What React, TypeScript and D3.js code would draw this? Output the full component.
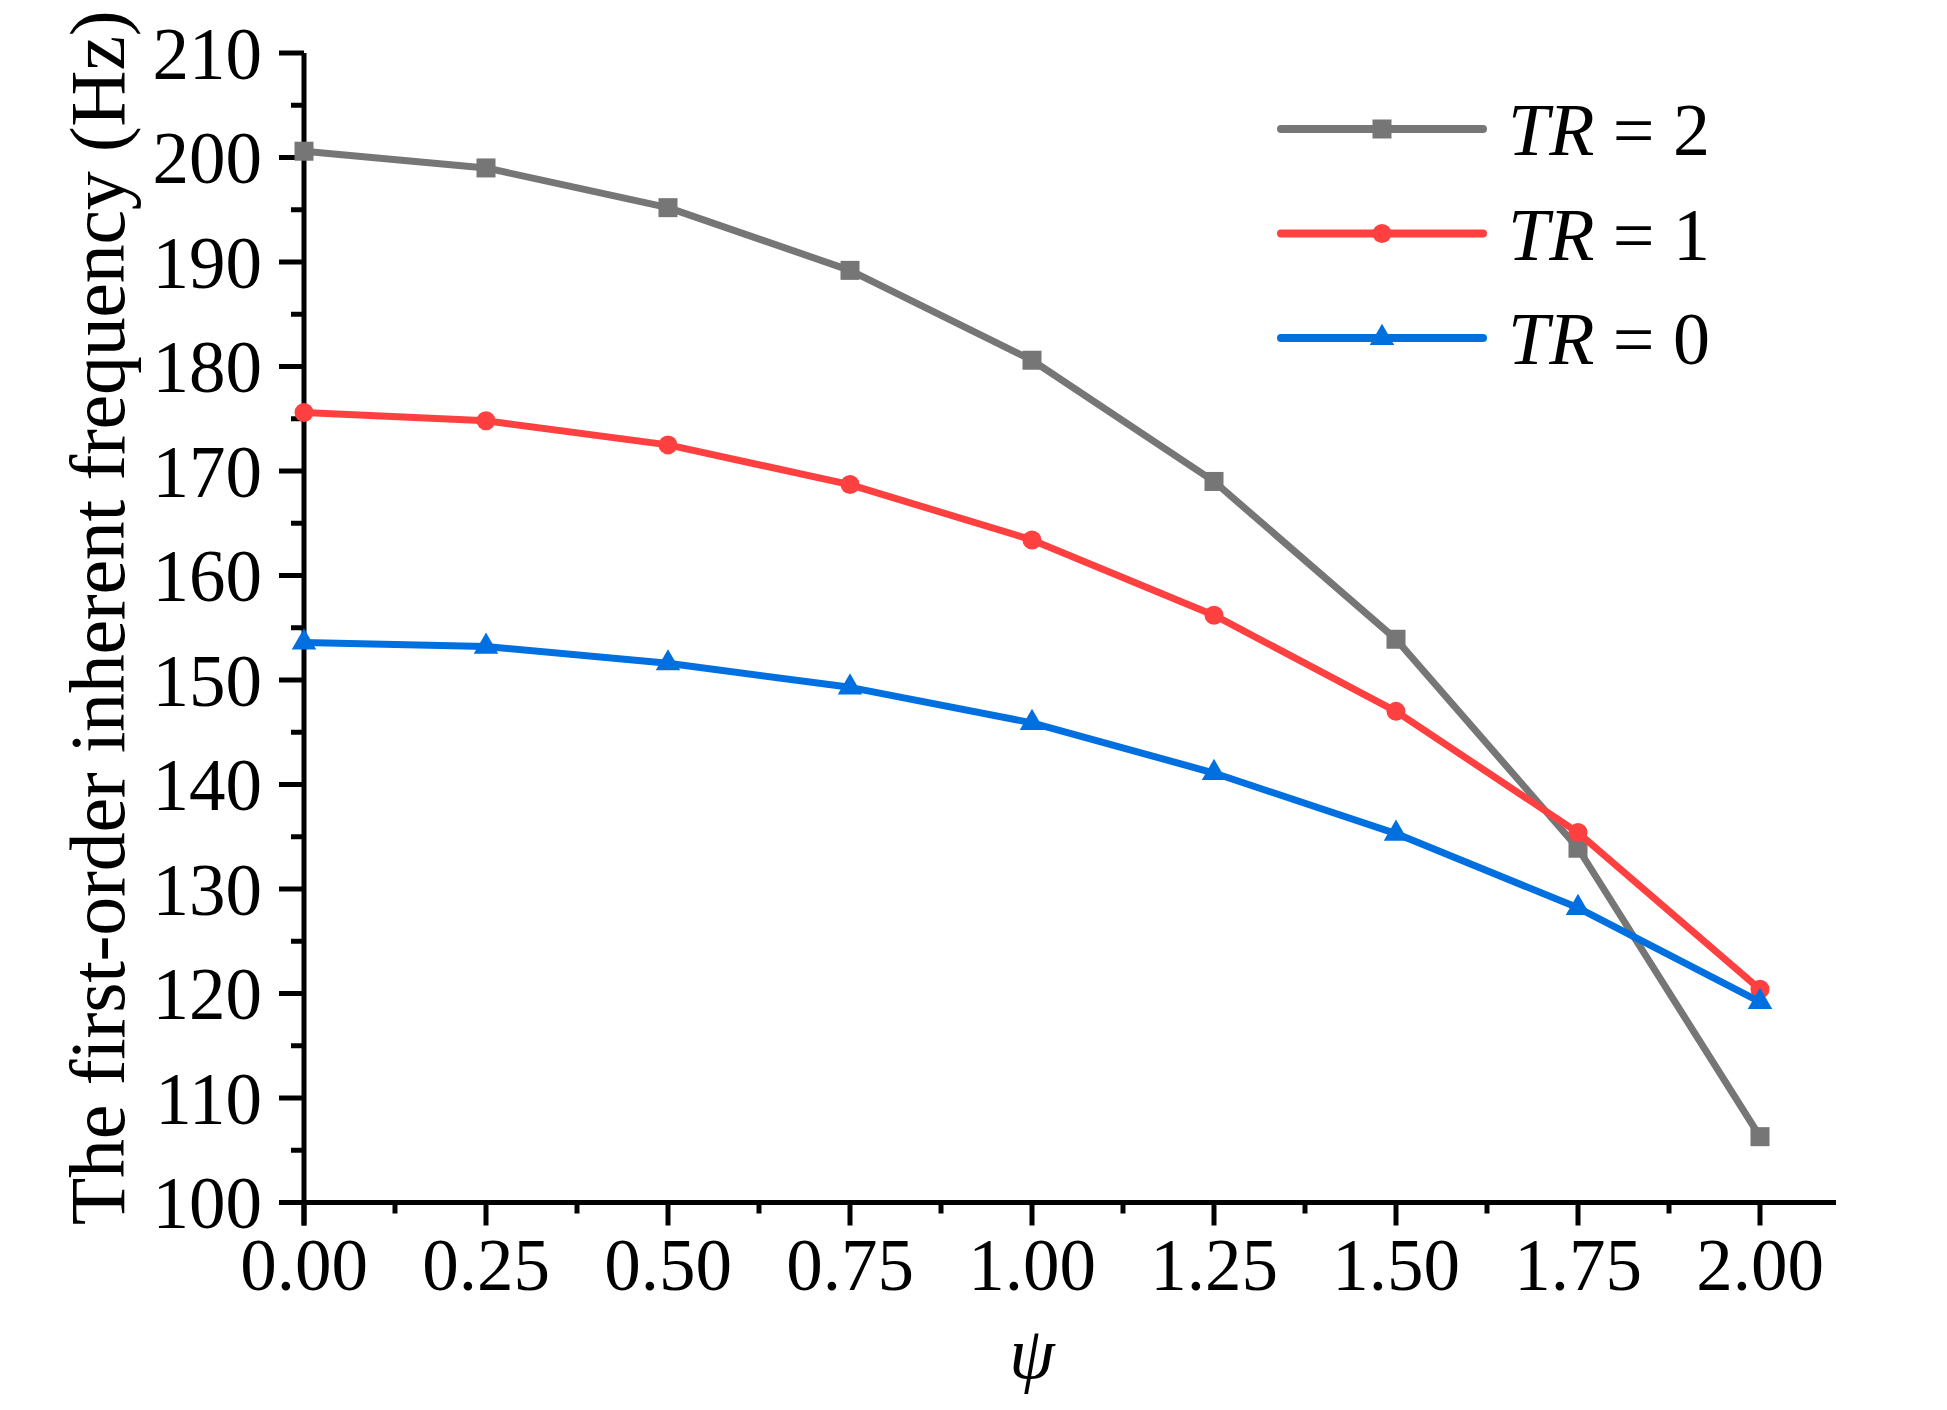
import React from 'react';
import * as d3 from 'd3';

const psi = [0, 0.25, 0.5, 0.75, 1.0, 1.25, 1.5, 1.75, 2.0];
const tr2 = [200.6, 199.0, 195.2, 189.2, 180.6, 169.0, 153.9, 133.9, 106.3];
const tr1 = [175.6, 174.8, 172.5, 168.7, 163.4, 156.2, 147.0, 135.4, 120.4];
const tr0 = [153.6, 153.2, 151.6, 149.3, 145.9, 141.1, 135.3, 128.2, 119.2];
const xTicks = [0, 0.25, 0.5, 0.75, 1.0, 1.25, 1.5, 1.75, 2.0];
const yTicks = [100, 110, 120, 130, 140, 150, 160, 170, 180, 190, 200, 210];

const series = [
  { label: '2', values: tr2, color: '#767676', marker: 'square' },
  { label: '1', values: tr1, color: '#FF4040', marker: 'circle' },
  { label: '0', values: tr0, color: '#0070E0', marker: 'triangle' },
];

const W = 1947;
const H = 1410;
const FONT = '"Liberation Serif", "DejaVu Serif", serif';

const x = d3.scaleLinear().domain([0, 2]).range([304, 1760]);
const y = d3.scaleLinear().domain([100, 210]).range([1202.5, 53]);

function Marker({ kind, cx, cy, color }: { kind: string; cx: number; cy: number; color: string }) {
  if (kind === 'square') return <rect x={cx - 9.5} y={cy - 9.5} width={19} height={19} fill={color} />;
  if (kind === 'circle') return <circle cx={cx} cy={cy} r={9.5} fill={color} />;
  const p = d3.symbol(d3.symbolTriangle, 260)()!;
  return <path d={p} transform={`translate(${cx},${cy})`} fill={color} />;
}

export default function App() {
  const line = d3.line<number>().x((_, i) => x(psi[i])).y(d => y(d));
  const minorX = d3.range(0.125, 2.0, 0.25);
  const minorY = d3.range(105, 210, 10);
  return (
    <svg width={W} height={H} style={{ position: 'absolute', left: 0, top: 0, background: '#fff' }}>
      <g stroke="#000" strokeWidth={5} fill="none">
        <line x1={304} x2={304} y1={y(210)} y2={y(100) + 23} />
        <line x1={279} x2={1836} y1={y(100)} y2={y(100)} />
        {yTicks.map(t => <line key={'y' + t} x1={279} x2={304} y1={y(t)} y2={y(t)} />)}
        {minorY.map(t => <line key={'my' + t} x1={291} x2={304} y1={y(t)} y2={y(t)} />)}
        {xTicks.map(t => <line key={'x' + t} x1={x(t)} x2={x(t)} y1={y(100)} y2={y(100) + 23} />)}
        {minorX.map(t => <line key={'mx' + t} x1={x(t)} x2={x(t)} y1={y(100)} y2={y(100) + 11} />)}
      </g>
      <g fontFamily={FONT} fontSize={73} fill="#000">
        {yTicks.map(t => (
          <text key={'yl' + t} x={262} y={y(t)} dy="0.35em" textAnchor="end">{t}</text>
        ))}
        {xTicks.map(t => (
          <text key={'xl' + t} x={x(t)} y={1290} textAnchor="middle">{d3.format('.2f')(t)}</text>
        ))}
        <text x={1032} y={1378} textAnchor="middle" fontStyle="italic">ψ</text>
        <text transform={`translate(124,${(y(100) + y(210)) / 2 - 10}) rotate(-90)`} textAnchor="middle"
          fontSize={78} textLength={1215} lengthAdjust="spacing">
          The first-order inherent frequency (Hz)
        </text>
      </g>
      {series.map(s => (
        <g key={s.label}>
          <path d={line(s.values)!} fill="none" stroke={s.color} strokeWidth={7} strokeLinejoin="round" />
          {s.values.map((v, i) => (
            <Marker key={i} kind={s.marker} cx={x(psi[i])} cy={y(v)} color={s.color} />
          ))}
        </g>
      ))}
      {series.map((s, i) => {
        const ly = 129 + i * 104.5;
        return (
          <g key={'lg' + s.label}>
            <line x1={1281} x2={1483} y1={ly} y2={ly} stroke={s.color} strokeWidth={8} strokeLinecap="round" />
            <Marker kind={s.marker} cx={1382} cy={ly} color={s.color} />
            <text x={1508} y={ly + 26} fontFamily={FONT} fontSize={74} fill="#000">
              <tspan fontStyle="italic">TR</tspan> = {s.label}
            </text>
          </g>
        );
      })}
    </svg>
  );
}
